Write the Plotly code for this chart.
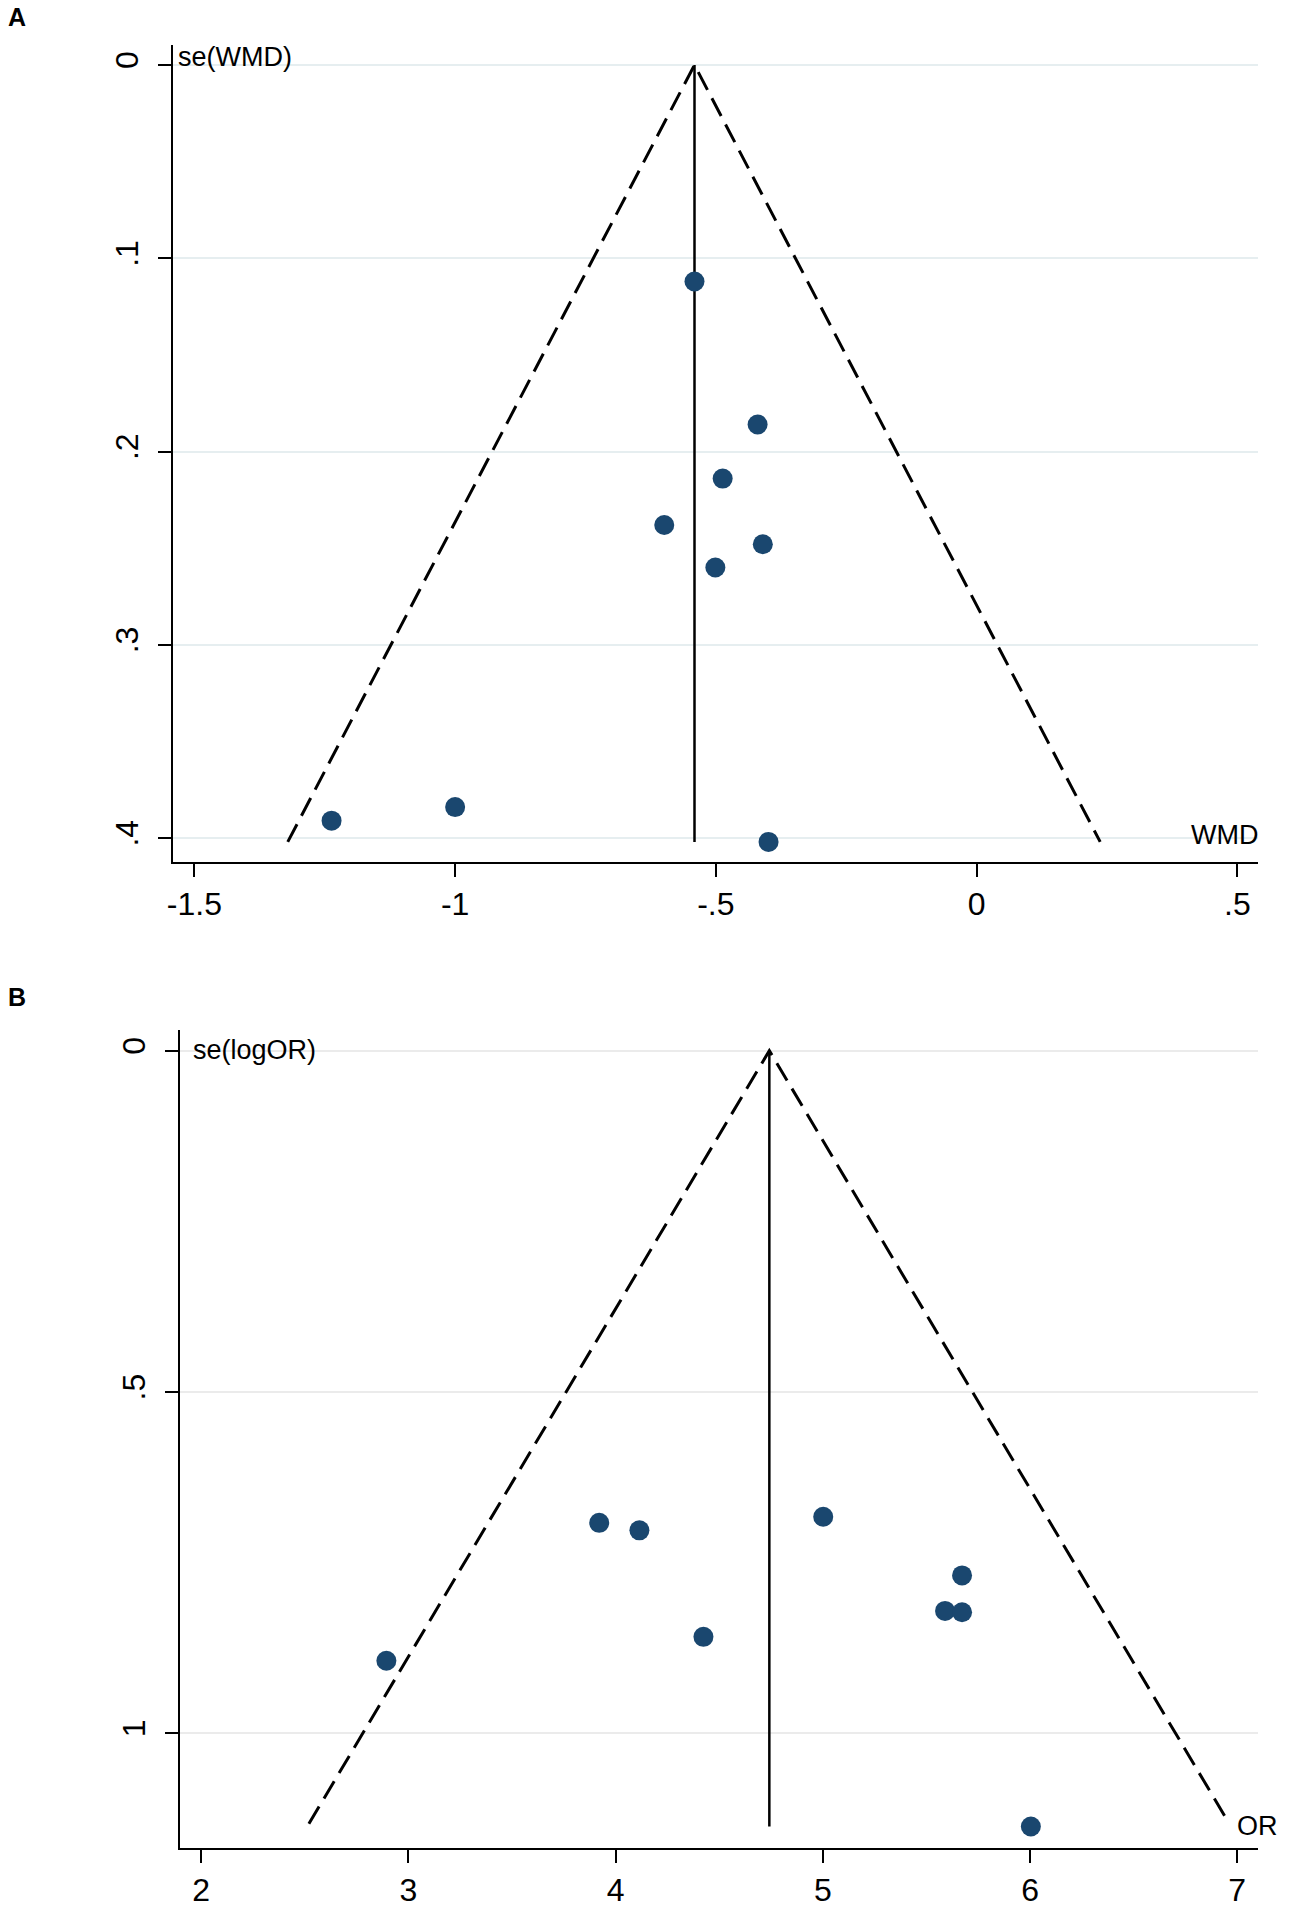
import plotly.graph_objects as go
from plotly.subplots import make_subplots

# panel A: WMD funnel
wmd = [-0.541, -0.420, -0.487, -0.599, -0.410, -0.501, -1.237, -1.000, -0.399]
se_wmd = [0.112, 0.186, 0.214, 0.238, 0.248, 0.260, 0.391, 0.384, 0.402]
pooled_wmd = -0.541
funnel_wmd_x = [-1.321, -0.541, 0.237]
funnel_wmd_y = [0.402, 0.0, 0.402]

# panel B: OR funnel
orr = [3.921, 4.115, 5.002, 5.672, 5.590, 5.672, 4.424, 2.894, 6.004]
se_logor = [0.692, 0.703, 0.683, 0.769, 0.821, 0.823, 0.859, 0.894, 1.137]
pooled_or = 4.742
funnel_or_x = [2.52, 4.742, 6.962]
funnel_or_y = [1.133, 0.0, 1.133]

ticks_a_x = [-1.5, -1, -0.5, 0, 0.5]
ticklab_a_x = ["-1.5", "-1", "-.5", "0", ".5"]
ticks_a_y = [0, 0.1, 0.2, 0.3, 0.4]
ticklab_a_y = ["0", ".1", ".2", ".3", ".4"]
ticks_b_x = [2, 3, 4, 5, 6, 7]
ticks_b_y = [0, 0.5, 1]
ticklab_b_y = ["0", ".5", "1"]

W, H = 1300, 1918
FONT = "Liberation Sans, Arial, sans-serif"
NAVY = "#1a476f"

fig = make_subplots(rows=2, cols=1)

for row, (xs, ys, px, fx, fy) in enumerate([
        (wmd, se_wmd, pooled_wmd, funnel_wmd_x, funnel_wmd_y),
        (orr, se_logor, pooled_or, funnel_or_x, funnel_or_y)], start=1):
    fig.add_trace(go.Scatter(x=fx, y=fy, mode="lines",
                             line=dict(color="black", width=3, dash="20px,9.5px")),
                  row=row, col=1)
    fig.add_trace(go.Scatter(x=[px, px], y=[0, max(ys)], mode="lines",
                             line=dict(color="black", width=2.5)),
                  row=row, col=1)
    fig.add_trace(go.Scatter(x=xs, y=ys, mode="markers",
                             marker=dict(color=NAVY, size=20)),
                  row=row, col=1)

axis_common = dict(showline=True, linecolor="black", linewidth=2, ticks="outside",
                   ticklen=13, tickwidth=2, tickcolor="black", zeroline=False,
                   mirror=False, tickfont=dict(family=FONT, size=32, color="black"))

fig.update_xaxes(domain=[167.5 / W, 1258 / W], range=[-1.5416, 0.540], showgrid=False,
                 tickvals=ticks_a_x, ticktext=ticklab_a_x, **axis_common, row=1, col=1)
fig.update_yaxes(domain=[1 - 862 / H, 1 - 45 / H], range=[0.4124, -0.01035],
                 showgrid=True, gridcolor="#e6eef0", gridwidth=1.5,
                 tickvals=ticks_a_y, ticktext=ticklab_a_y, tickangle=-90,
                 ticklabelstandoff=7, **axis_common, row=1, col=1)
fig.update_xaxes(domain=[175 / W, 1258 / W], range=[1.899, 7.101], showgrid=False,
                 tickvals=ticks_b_x, **axis_common, row=2, col=1)
fig.update_yaxes(domain=[1 - 1848 / H, 1 - 1030 / H], range=[1.1685, -0.0303],
                 showgrid=True, gridcolor="#ebebeb", gridwidth=1.5,
                 tickvals=ticks_b_y, ticktext=ticklab_b_y, tickangle=-90,
                 ticklabelstandoff=7, **axis_common, row=2, col=1)

def note(text, x, y, anchor="left", size=27, bold=False):
    fig.add_annotation(text="<b>" + text + "</b>" if bold else text,
                       x=x / W, y=1 - y / H, xref="paper", yref="paper",
                       xanchor=anchor, yanchor="middle", showarrow=False,
                       font=dict(family=FONT, size=size, color="black"))

note("A", 0, 16.5, size=25, bold=True)
note("B", 0, 997, size=25, bold=True)
note("se(WMD)", 171, 57)
note("WMD", 1260, 835, anchor="right")
note("se(logOR)", 186, 1050)
note("OR", 1280, 1826, anchor="right")

fig.update_layout(width=W, height=H, margin=dict(l=0, r=0, t=0, b=0),
                  plot_bgcolor="white", paper_bgcolor="white", showlegend=False,
                  font=dict(family=FONT, color="black"))

fig.write_html("out.html", config={"displayModeBar": False},
               post_script="document.body.style.margin='0';")
